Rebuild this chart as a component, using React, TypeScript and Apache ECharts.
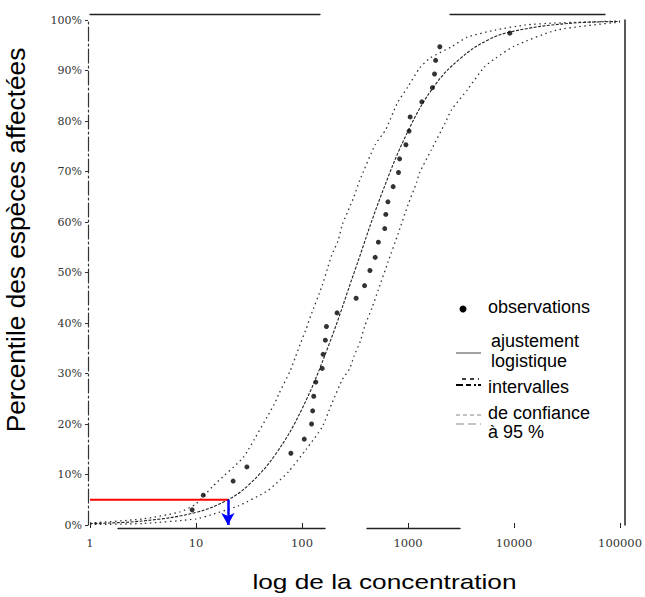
import React, { useEffect, useRef } from 'react';
import * as echarts from 'echarts';

// Observations (concentration, percentile %)
const obsConc = [9.2, 11.7, 22.4, 30.2, 78.5, 105, 123, 126, 129, 135, 155, 158, 166, 170, 214, 324, 389, 437, 490, 525, 603, 617, 646, 724, 813, 832, 955, 1023, 1047, 1349, 1698, 1778, 1820, 1995, 9120];
const obsPct = [3.0, 5.9, 8.7, 11.5, 14.2, 17.0, 20.0, 22.6, 25.5, 28.3, 31.0, 33.8, 36.6, 39.3, 42.0, 44.9, 47.4, 50.4, 53.0, 56.0, 58.7, 61.5, 64.0, 67.0, 69.8, 72.5, 75.3, 78.0, 80.8, 83.8, 86.6, 89.3, 92.0, 94.7, 97.4];

// Logistic fit (log10 concentration, %)
const fitLog = [0, 0.5, 1.0, 1.3, 1.5, 1.75, 2.0, 2.25, 2.5, 2.75, 3.0, 3.25, 3.5, 3.75, 4.0, 4.5, 5.0];
const fitPct = [0.3, 0.8, 2.5, 5.0, 8.0, 14.0, 23.0, 35.5, 50.5, 65.5, 78.0, 87.0, 92.5, 96.0, 97.8, 99.3, 99.7];

// Upper 95% confidence band (left curve)
const upperLog = [0, 0.5, 0.85, 1.0, 1.16, 1.2, 1.43, 1.49, 1.74, 1.78, 1.89, 1.94, 1.99, 2.04, 2.08, 2.19, 2.24, 2.28, 2.34, 2.38, 2.43, 2.49, 2.54, 2.69, 2.79, 2.9, 3.0, 3.11, 3.21, 3.41, 3.56, 3.82, 4.1, 4.38, 5.0];
const upperPct = [0.4, 1.2, 2.6, 4.2, 7.7, 8.5, 13.0, 14.8, 24.0, 25.9, 30.6, 33.4, 36.2, 38.9, 41.3, 47.4, 50.8, 53.4, 56.3, 59.5, 62.0, 65.0, 68.0, 75.3, 78.3, 83.6, 86.8, 90.5, 92.5, 94.7, 96.6, 98.0, 99.0, 99.4, 99.8];

// Lower 95% confidence band (right curve)
const lowerLog = [0, 0.5, 1.0, 1.14, 1.4, 1.67, 1.77, 1.87, 2.04, 2.19, 2.28, 2.38, 2.45, 2.49, 2.55, 2.59, 2.66, 2.72, 2.81, 2.91, 3.0, 3.08, 3.11, 3.22, 3.35, 3.41, 3.56, 3.72, 3.83, 4.0, 4.4, 5.0];
const lowerPct = [0.1, 0.3, 1.2, 2.0, 3.8, 6.7, 8.5, 10.5, 15.0, 19.4, 24.0, 28.8, 31.0, 33.4, 36.4, 39.3, 43.0, 46.6, 52.0, 57.9, 63.4, 67.8, 69.8, 74.3, 79.6, 82.2, 86.2, 90.7, 92.5, 94.8, 98.0, 99.6];

// HC5 reading
const hcConc = [1, 20];
const hcPct = 5;

const xTicks = [1, 10, 100, 1000, 10000, 100000];

const pair = (xs: number[], ys: number[]) => xs.map((x, i) => [Math.pow(10, x), ys[i]]);

const sans = '"Liberation Sans", Arial, sans-serif';
const serif = '"DejaVu Serif", "Liberation Serif", serif';

function legendText(text: string, x: number, y: number) {
  return {
    type: 'text',
    x,
    y,
    style: {
      text,
      fill: '#000',
      font: `18px ${sans}`,
      fontSize: 18,
      fontFamily: sans,
      align: 'left',
      textAlign: 'left',
      verticalAlign: 'middle',
      textVerticalAlign: 'middle',
    },
  };
}

export default function App() {
  const ref = useRef<HTMLDivElement>(null);
  useEffect(() => {
    document.body.style.margin = '0';
    const chart = echarts.init(ref.current!, null, { renderer: 'svg' });
    const option: any = {
      animation: false,
      backgroundColor: '#fff',
      grid: { left: 90, right: 22, top: 20, bottom: 72, containLabel: false },
      xAxis: [
        {
          type: 'log',
          logBase: 10,
          min: xTicks[0],
          max: xTicks[xTicks.length - 1],
          position: 'bottom',
          offset: 3,
          axisLine: {
            show: true,
            onZero: false,
            lineStyle: { color: '#222', width: 1.3, type: [207, 42, 93, 600], dashOffset: -28 },
          },
          axisTick: { show: true, inside: true, length: 5, lineStyle: { color: '#222' } },
          axisLabel: {
            margin: 9,
            color: '#333',
            fontFamily: serif,
            fontSize: 11.5,
            formatter: (v: number) => String(Math.round(v)),
          },
          splitLine: { show: false },
          minorTick: { show: false },
        },
        {
          type: 'value',
          position: 'top',
          offset: 6,
          axisLine: {
            show: true,
            onZero: false,
            lineStyle: { color: '#222', width: 1.3, type: [230, 130, 155, 60] },
          },
          axisTick: { show: false },
          axisLabel: { show: false },
          splitLine: { show: false },
        },
      ],
      yAxis: [
        {
          type: 'value',
          min: 0,
          max: 100,
          interval: 10,
          offset: 2,
          axisLine: { show: true, onZero: false, lineStyle: { color: '#333', width: 1.2, type: [14, 3, 2, 3] } },
          axisTick: { show: true, length: 3, lineStyle: { color: '#333' } },
          axisLabel: {
            margin: 6,
            color: '#333',
            fontFamily: serif,
            fontSize: 11,
            formatter: '{value}%',
          },
          splitLine: { show: false },
        },
        {
          type: 'value',
          position: 'right',
          offset: 5,
          min: 0,
          max: 100,
          axisLine: { show: true, onZero: false, lineStyle: { color: '#222', width: 1.5 } },
          axisTick: { show: false },
          axisLabel: { show: false },
          splitLine: { show: false },
        },
      ],
      series: [
        {
          name: 'intervalles de confiance (sup.)',
          type: 'line',
          data: pair(upperLog, upperPct),
          showSymbol: false,
          smooth: 0.2,
          lineStyle: { color: '#333', width: 1.3, type: [1.5, 3.5] },
          z: 2,
        },
        {
          name: 'intervalles de confiance (inf.)',
          type: 'line',
          data: pair(lowerLog, lowerPct),
          showSymbol: false,
          smooth: 0.2,
          lineStyle: { color: '#333', width: 1.3, type: [1.5, 3.5] },
          z: 2,
        },
        {
          name: 'ajustement logistique',
          type: 'line',
          data: pair(fitLog, fitPct),
          showSymbol: false,
          smooth: 0.4,
          lineStyle: { color: '#222', width: 1.1, type: [3, 1.5] },
          z: 3,
        },
        {
          name: 'HC5',
          type: 'line',
          data: hcConc.map((c) => [c, hcPct]),
          showSymbol: false,
          lineStyle: { color: '#ff0000', width: 2 },
          z: 4,
          markLine: {
            silent: true,
            symbol: ['none', 'arrow'],
            symbolSize: [10, 12],
            label: { show: false },
            lineStyle: { color: '#0000ff', width: 2.5, type: 'solid' },
            data: [[{ coord: [hcConc[1], hcPct] }, { coord: [hcConc[1], 0] }]],
          },
        },
        {
          name: 'observations',
          type: 'scatter',
          data: obsConc.map((c, i) => [c, obsPct[i]]),
          symbol: 'circle',
          symbolSize: 5,
          itemStyle: { color: '#000' },
          z: 5,
        },
      ],
      graphic: [
        {
          type: 'text',
          x: 16,
          y: 240,
          rotation: Math.PI / 2,
          scaleX: 1.05,
          style: {
            text: 'Percentile des espèces affectées',
            fill: '#000',
            font: `25px ${sans}`,
            fontSize: 25,
            fontFamily: sans,
            align: 'center',
            textAlign: 'center',
            verticalAlign: 'middle',
            textVerticalAlign: 'middle',
          },
        },
        {
          type: 'text',
          x: 384.5,
          y: 581,
          scaleX: 1.25,
          style: {
            text: 'log de la concentration',
            fill: '#000',
            font: `21px ${sans}`,
            fontSize: 21,
            fontFamily: sans,
            align: 'center',
            textAlign: 'center',
            verticalAlign: 'middle',
            textVerticalAlign: 'middle',
          },
        },
        { type: 'circle', shape: { cx: 463, cy: 309, r: 3.5 }, style: { fill: '#000' } },
        legendText('observations', 488, 306.5),
        { type: 'line', shape: { x1: 456, y1: 353, x2: 481, y2: 353 }, style: { stroke: '#444', lineWidth: 1 } },
        legendText('ajustement', 491, 340.5),
        legendText('logistique', 491, 360.5),
        { type: 'line', shape: { x1: 462, y1: 379, x2: 479, y2: 379 }, style: { stroke: '#000', lineWidth: 1.5, lineDash: [4, 4] } },
        { type: 'line', shape: { x1: 456, y1: 385, x2: 481, y2: 385 }, style: { stroke: '#000', lineWidth: 2, lineDash: [7, 3, 5, 3, 2, 2] } },
        legendText('intervalles', 488, 386.5),
        { type: 'line', shape: { x1: 456, y1: 415, x2: 481, y2: 415 }, style: { stroke: '#888', lineWidth: 1, lineDash: [4, 3] } },
        { type: 'line', shape: { x1: 456, y1: 424, x2: 481, y2: 424 }, style: { stroke: '#888', lineWidth: 1, lineDash: [8, 4] } },
        legendText('de confiance', 488, 412.5),
        legendText('à 95 %', 488, 431.5),
      ],
    };
    chart.setOption(option);
    return () => chart.dispose();
  }, []);
  return <div ref={ref} style={{ width: 645, height: 597 }} />;
}
